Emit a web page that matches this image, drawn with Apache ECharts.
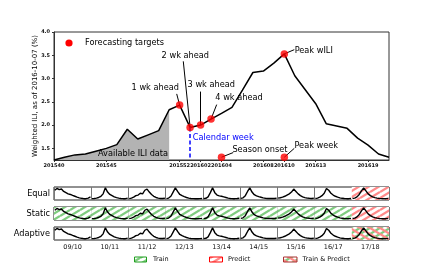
<!DOCTYPE html>
<html><head><meta charset="utf-8">
<script src="https://cdn.jsdelivr.net/npm/echarts@6/dist/echarts.min.js"></script>
<style>html,body{margin:0;padding:0;background:#fff}#c{width:433px;height:270px}</style>
</head><body><div id="c"></div>
<script>
// ---------- data ----------
const weeks = ['201540','201541','201542','201543','201544','201545','201546','201547','201548','201549','201550','201551','201552',
  '201601','201602','201603','201604','201605','201606','201607','201608','201609','201610','201611','201612','201613','201614',
  '201615','201616','201617','201618','201619','201620'];
const wili = [1.25,1.31,1.36,1.38,1.44,1.50,1.58,1.91,1.70,1.79,1.88,2.33,2.43,1.95,2.00,2.13,2.25,2.38,2.75,3.13,3.16,3.33,3.53,
  3.06,2.76,2.46,2.03,1.98,1.93,1.72,1.57,1.38,1.31];
const availableThrough = '201551';
const calendarWeek = '201601';
const targetWeeks = ['201552','201601','201602','201603','201604','201610','201610'];
const targetValues = [2.43,1.95,2.00,2.13,1.31,3.53,1.31];
const xTickPos = [0,5,12,14,16,20,22,25,30];
const xTickLabels = ['201540','201545','201552','201602','201604','201608','201610','201613','201619'];
const yTicks = [1.5,2.0,2.5,3.0,3.5,4.0];

const seasons = ['09/10','10/11','11/12','12/13','13/14','14/15','15/16','16/17','17/18'];
const curve0910 = [0.75,0.9,0.8,0.85,0.65,0.55,0.45,0.4,0.32,0.25,0.18,0.12,0.08,0.05,0.05,0.1,0.2];
const curve1011 = [0.05,0.07,0.1,0.15,0.25,0.45,0.95,0.6,0.4,0.3,0.2,0.14,0.1,0.07,0.05,0.05,0.1];
const curve1112 = [0.05,0.1,0.18,0.3,0.35,0.5,0.45,0.75,0.85,0.6,0.4,0.25,0.15,0.1,0.07,0.06,0.08];
const curve1213 = [0.05,0.1,0.25,0.6,0.95,0.65,0.4,0.3,0.22,0.15,0.1,0.07,0.05,0.04,0.04,0.05,0.07];
const curve1314 = [0.05,0.08,0.2,0.55,0.95,0.55,0.35,0.28,0.25,0.2,0.15,0.1,0.07,0.05,0.05,0.06,0.08];
const curve1415 = [0.08,0.12,0.3,0.65,0.95,0.6,0.38,0.28,0.22,0.17,0.12,0.09,0.07,0.06,0.06,0.07,0.09];
const curve1516 = [0.1,0.13,0.18,0.25,0.35,0.45,0.6,0.85,0.65,0.45,0.3,0.2,0.14,0.1,0.08,0.07,0.08];
const curve1617 = [0.06,0.1,0.18,0.3,0.5,0.9,0.75,0.5,0.35,0.25,0.18,0.12,0.08,0.06,0.05,0.05,0.07];
const curve1718 = [0.06,0.1,0.2,0.4,0.7,0.95,0.7,0.45,0.3,0.2,0.14,0.1,0.07,0.05,0.05,0.05,0.07];
const seasonCurves = [curve0910,curve1011,curve1112,curve1213,curve1314,curve1415,curve1516,curve1617,curve1718];

const rowNames = ['Equal','Static','Adaptive'];
const equalRoles    = ['','','','','','','','','predict'];
const staticRoles   = ['train','train','train','train','train','train','train','train','predict'];
const adaptiveRoles = ['','','','','','','','','both'];
const rowRoles = [equalRoles, staticRoles, adaptiveRoles];

const annotations = [
  {text:'1 wk ahead', at:[9.67,2.80], from:[11.72,2.67], to:[12,2.43]},
  {text:'2 wk ahead', at:[12.54,3.48], from:[12.35,3.37], to:[13,1.95]},
  {text:'3 wk ahead', at:[15.02,2.87], from:[14,2.72], to:[14,2.0]},
  {text:'4 wk ahead', at:[17.67,2.58], from:[15.54,2.44], to:[15,2.13]},
  {text:'Season onset', at:[19.67,1.47], from:[17.12,1.41], to:[16,1.31]},
  {text:'Peak week', at:[25.05,1.56], from:[22.95,1.50], to:[22,1.31]},
  {text:'Peak wILI', at:[24.81,3.60], from:[22.95,3.62], to:[22,3.53]}
];

// ---------- styling helpers ----------
const FONT = 'DejaVu Sans';
function hatch(kind){
  const W=10,H=6,c=document.createElement('canvas'); c.width=W; c.height=H;
  const g=c.getContext('2d'); g.fillStyle='#fff'; g.fillRect(0,0,W,H); g.lineWidth=2.3;
  const slash=col=>{g.strokeStyle=col;[-1,0,1].forEach(k=>{g.beginPath();g.moveTo(0,H+k*H);g.lineTo(W,k*H);g.stroke();});};
  const back=col=>{g.strokeStyle=col;[-1,0,1].forEach(k=>{g.beginPath();g.moveTo(0,k*H);g.lineTo(W,H+k*H);g.stroke();});};
  if(kind==='train') slash('#7fcc7f');
  if(kind==='predict') slash('#ff8a8a');
  if(kind==='both'){ slash('#7fcc7f'); back('#ff8a8a'); }
  return {image:c, repeat:'repeat'};
}
const patterns = {train:hatch('train'), predict:hatch('predict'), both:hatch('both')};

const availIdx = weeks.indexOf(availableThrough);
const calIdx = weeks.indexOf(calendarWeek);
const mainData = wili.map((v,i)=>[i,v]);
const availData = wili.map((v,i)=>[i, i<=availIdx ? v : null]);
const targetData = targetWeeks.map((w,i)=>[weeks.indexOf(w), targetValues[i]]);

const grid = [{left:54, top:32, width:335, height:128, show:true, borderColor:'#333', borderWidth:1}];
rowNames.forEach((r,i)=>grid.push({left:54, top:187+i*20, width:335, height:13, show:true, borderColor:'#222', borderWidth:1}));

const xAxis = [{
  type:'value', gridIndex:0, min:0, max:weeks.length-1,
  axisLine:{show:true, lineStyle:{color:'#333'}},
  axisTick:{show:true, customValues:xTickPos, length:2, lineStyle:{color:'#333'}},
  axisLabel:{customValues:xTickPos, formatter:v=>xTickLabels[xTickPos.indexOf(v)], fontSize:5, color:'#111', margin:3, fontFamily:FONT, fontWeight:'bold'},
  splitLine:{show:false}
}];
const yAxis = [{
  type:'value', gridIndex:0, min:1.25, max:4.0,
  axisLine:{show:true, lineStyle:{color:'#333'}},
  axisTick:{show:true, customValues:yTicks, length:2, lineStyle:{color:'#333'}},
  axisLabel:{customValues:yTicks, formatter:v=>v.toFixed(1), fontSize:5, color:'#111', margin:4, fontFamily:FONT, fontWeight:'bold'},
  splitLine:{show:false},
  name:'Weighted ILI, as of 2016-10-07 (%)', nameLocation:'middle', nameGap:15, nameMoveOverlap:false,
  nameTextStyle:{fontSize:7, color:'#000', fontFamily:FONT}
}];
rowNames.forEach((r,i)=>{
  xAxis.push({type:'value', gridIndex:i+1, min:0, max:seasons.length, interval:1, position:'bottom',
    axisLine:{show:false}, axisTick:{show:false}, axisLabel:{show:false},
    splitLine:{show:true, lineStyle:{color:'#777', width:1}}});
  yAxis.push({type:'value', gridIndex:i+1, min:-0.06, max:1.02,
    axisLine:{show:false}, axisTick:{show:false}, axisLabel:{show:false}, splitLine:{show:false},
    name:r, nameLocation:'middle', nameRotate:0, nameGap:4, nameMoveOverlap:false,
    nameTextStyle:{fontSize:8.2, color:'#000', fontFamily:FONT, align:'right', verticalAlign:'middle'}});
});
xAxis.push({type:'category', gridIndex:3, data:seasons, position:'bottom', boundaryGap:true,
  axisLine:{show:false}, axisTick:{show:false},
  axisLabel:{fontSize:6.5, color:'#111', margin:4, fontFamily:FONT}});

const series = [
  {type:'line', xAxisIndex:0, yAxisIndex:0, data:availData, showSymbol:false, connectNulls:false,
   lineStyle:{width:0}, areaStyle:{color:'#b3b3b3', opacity:1, origin:'start'}, z:1, silent:true},
  {type:'line', xAxisIndex:0, yAxisIndex:0, data:mainData, showSymbol:false,
   lineStyle:{color:'#000', width:1.5}, z:3, silent:true,
   markLine:{silent:true, symbol:['none','none'], label:{show:false}, animation:false,
     lineStyle:{color:'#000', width:1, type:'solid'},
     data: annotations.map(a=>[{coord:a.from},{coord:a.to}]).concat([
       [{coord:[calIdx, wili[calIdx]], lineStyle:{color:'#0000ff', width:1.5, type:[4,2.5]}},{coord:[calIdx,1.25]}]
     ])},
   markPoint:{silent:true, symbol:'rect', symbolSize:1, itemStyle:{color:'rgba(0,0,0,0)'}, animation:false,
     label:{show:true, position:'inside', fontSize:8.2, color:'#000', fontFamily:FONT},
     data: annotations.map(a=>({coord:a.at, value:a.text, label:{formatter:a.text}})).concat([
       {coord:[13.25,1.72], label:{formatter:'Calendar week', color:'#0000ff', align:'left'}},
       {coord:[7.55,1.39], label:{formatter:'Available ILI data'}}
     ])}
  },
  {type:'scatter', xAxisIndex:0, yAxisIndex:0, data:targetData, symbolSize:7.5,
   itemStyle:{color:'#ff0000'}, z:5, silent:true}
];

rowNames.forEach((r,ri)=>{
  seasons.forEach((s,si)=>{
    const cv = seasonCurves[si];
    const role = rowRoles[ri][si];
    const ser = {type:'line', xAxisIndex:ri+1, yAxisIndex:ri+1, showSymbol:false, silent:true, z:4,
      data: cv.map((v,k)=>[si+0.02+k*0.96/(cv.length-1), v]),
      lineStyle:{color:'#000', width:1.4}};
    if(role){
      ser.markArea = {silent:true, itemStyle:{color:patterns[role], opacity:1},
        data:[[{xAxis:si},{xAxis:si+1}]]};
    }
    series.push(ser);
  });
});

const graphic = [
  {type:'circle', shape:{cx:69, cy:43, r:3.6}, style:{fill:'#ff0000'}},
  {type:'text', x:85, y:43, style:{text:'Forecasting targets', fontSize:8.2, fontFamily:FONT, fill:'#000', verticalAlign:'middle'}},
  {type:'rect', shape:{x:134.5, y:257, width:12, height:5}, style:{fill:patterns.train, stroke:'#1e9e1e', lineWidth:1}},
  {type:'text', x:153, y:259.5, style:{text:'Train', fontSize:6.5, fontFamily:FONT, fill:'#111', verticalAlign:'middle'}},
  {type:'rect', shape:{x:209.5, y:257, width:13, height:5}, style:{fill:patterns.predict, stroke:'#ff0000', lineWidth:1}},
  {type:'text', x:228, y:259.5, style:{text:'Predict', fontSize:6.5, fontFamily:FONT, fill:'#111', verticalAlign:'middle'}},
  {type:'rect', shape:{x:283.5, y:257, width:13.5, height:5}, style:{fill:patterns.both, stroke:'#a83232', lineWidth:1}},
  {type:'text', x:302.5, y:259.5, style:{text:'Train & Predict', fontSize:6.5, fontFamily:FONT, fill:'#111', verticalAlign:'middle'}}
];

const chart = echarts.init(document.getElementById('c'), null, {renderer:'canvas'});
chart.setOption({animation:false, backgroundColor:'#fff', textStyle:{fontFamily:FONT},
  grid, xAxis, yAxis, series, graphic});
</script></body></html>
